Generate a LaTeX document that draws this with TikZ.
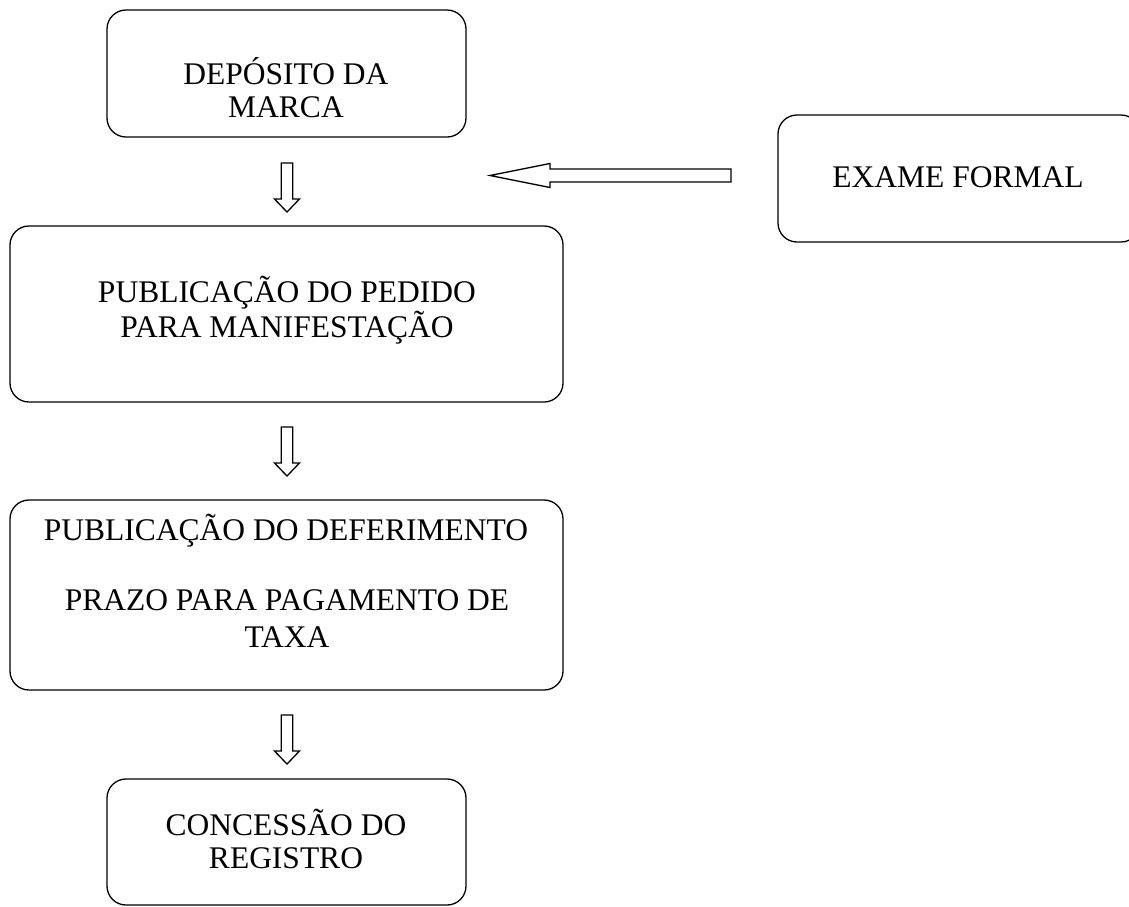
\documentclass[tikz,border=0pt]{standalone}
\usepackage{fontspec}
\setmainfont{Liberation Serif}
\usetikzlibrary{calc}
\begin{document}
\begin{tikzpicture}[x=1pt,y=-1pt,
  box/.style={draw=black,line width=1.3pt,rounded corners=19pt,inner sep=0pt},
  txt/.style={font=\fontsize{31.5}{33}\selectfont,align=center,inner sep=0pt,anchor=base},
  blockarrow/.style={draw=black,line width=1.3pt,fill=white,line join=miter}]
\useasboundingbox (0,0) rectangle (1129,906);
% boxes
\draw[box] (107,10) rectangle (466,137);
\node[inner sep=0pt] (b1) at (286.5,73.5) {};
\draw[box] (778,115) rectangle (1140,242);
\node[inner sep=0pt] (b2) at (953,178.5) {};
\draw[box] (10,226) rectangle (563,402);
\node[inner sep=0pt] (b3) at (286.5,314) {};
\draw[box] (10,500) rectangle (563,690);
\node[inner sep=0pt] (b4) at (286.5,595) {};
\draw[box] (107,779) rectangle (466,905);
\node[inner sep=0pt] (b5) at (286.5,842) {};
% texts (anchor = baseline of last line)
\node[txt] (t1) at (286,117) {DEPÓSITO DA\\MARCA};
\node[txt] (t2) at (958,187) {EXAME FORMAL};
\node[txt] (t3) at (287,337) {PUBLICAÇÃO DO PEDIDO\\PARA MANIFESTAÇÃO};
\node[txt] (t4) at (286,540) {PUBLICAÇÃO DO DEFERIMENTO};
\node[txt,font=\fontsize{31.5}{37}\selectfont] (t4b) at (287,647) {PRAZO PARA PAGAMENTO DE\\TAXA};
\node[txt] (t5) at (286,868) {CONCESSÃO DO\\REGISTRO};
% connector coordinates
\coordinate (a1s) at (287,163);
\coordinate (a1e) at (287,212);
\coordinate (a2s) at (287,427);
\coordinate (a2e) at (287,476);
\coordinate (a3s) at (287,715);
\coordinate (a3e) at (287,764);
\coordinate (a4s) at (731,175.5);
\coordinate (a4e) at (490,175.5);
% down block arrows
\foreach \s/\e in {a1s/a1e,a2s/a2e,a3s/a3e}{
  \draw[blockarrow] ([xshift=-5.8pt]\s) -- ([xshift=-5.8pt,yshift=13pt]\e)
    -- ([xshift=-12.5pt,yshift=13pt]\e) -- (\e)
    -- ([xshift=12.5pt,yshift=13pt]\e) -- ([xshift=5.8pt,yshift=13pt]\e)
    -- ([xshift=5.8pt]\s) -- cycle;
}
% left block arrow from EXAME FORMAL
\draw[blockarrow] ([yshift=6.5pt]a4s) -- ([xshift=60pt,yshift=6.5pt]a4e)
  -- ([xshift=60pt,yshift=12pt]a4e) -- (a4e)
  -- ([xshift=60pt,yshift=-12pt]a4e) -- ([xshift=60pt,yshift=-6.5pt]a4e)
  -- ([yshift=-6.5pt]a4s) -- cycle;
\end{tikzpicture}
\end{document}
